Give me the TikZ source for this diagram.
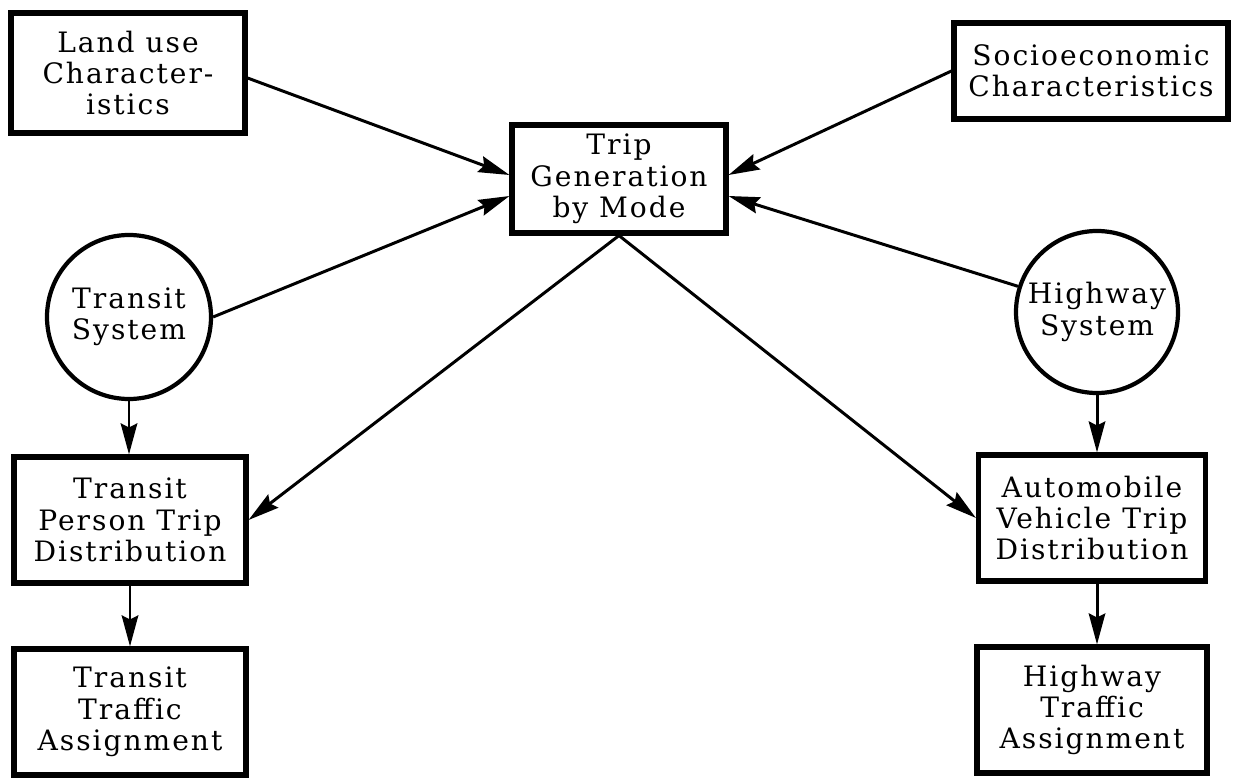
\documentclass[tikz,border=0pt]{standalone}
\usepackage{fontspec}
\setmainfont{DejaVu Serif}[LetterSpace=7]
\usetikzlibrary{arrows.meta,positioning,calc}

\tikzset{
  blk/.style={draw,line width=2.9pt,align=center,inner sep=0pt,
              font=\fontsize{16pt}{17.8pt}\selectfont},
  sys/.style={draw,circle,line width=2.4pt,align=center,inner sep=0pt,
              font=\fontsize{16pt}{17.8pt}\selectfont},
  flow/.style={line width=1.7pt,-{Stealth[length=6.2mm,width=3.3mm,inset=0.8mm]}}
}

\begin{document}
\begin{tikzpicture}[x=0.2mm,y=-0.2mm]
\useasboundingbox (0,0) rectangle (1236,778);
% inputs
\node[blk,minimum width=46.8mm,minimum height=24mm] (landuse) at (128,73) {Land use\\Character-\\istics};
\node[blk,minimum width=54.8mm,minimum height=19.2mm] (socio) at (1091,71) {Socioeconomic\\Characteristics};
\node[blk,minimum width=42.8mm,minimum height=21.6mm] (tripgen) at (619,179) {Trip\\Generation\\by Mode};
\node[sys,minimum size=32.8mm] (transit) at (129,317) {Transit\\System};
\node[sys,minimum size=32.4mm] (highway) at (1097,312) {Highway\\System};
% distribution and assignment
\node[blk,minimum width=46.4mm,minimum height=25.2mm] (tpdist) at (130,520) {Transit\\Person Trip\\Distribution};
\node[blk,minimum width=45.4mm,minimum height=25.2mm] (avdist) at (1092,518) {Automobile\\Vehicle Trip\\Distribution};
\node[blk,minimum width=46.4mm,minimum height=25.2mm] (tassign) at (130,712) {Transit\\Traffic\\Assignment};
\node[blk,minimum width=46mm,minimum height=25.2mm] (hassign) at (1092,710) {Highway\\Traffic\\Assignment};

\draw[flow] ([yshift=-1mm]landuse.east) -- ([yshift=0.8mm]tripgen.west);
\draw[flow] (transit.east) -- ([yshift=-3.4mm]tripgen.west);
\draw[flow] (socio.west) -- ([yshift=0.8mm]tripgen.east);
\draw[flow] (highway.162) -- ([yshift=-3.4mm]tripgen.east);
\draw[flow] (tripgen.south) -- (tpdist.east);
\draw[flow] (tripgen.south) -- (avdist.west);
\draw[flow] (transit.south) -- (transit.south|-tpdist.north);
\draw[flow] (tpdist.south) -- (tassign.north);
\draw[flow] (highway.south) -- (highway.south|-avdist.north);
\draw[flow] (highway.south|-avdist.south) -- (highway.south|-hassign.north);
\end{tikzpicture}
\end{document}
